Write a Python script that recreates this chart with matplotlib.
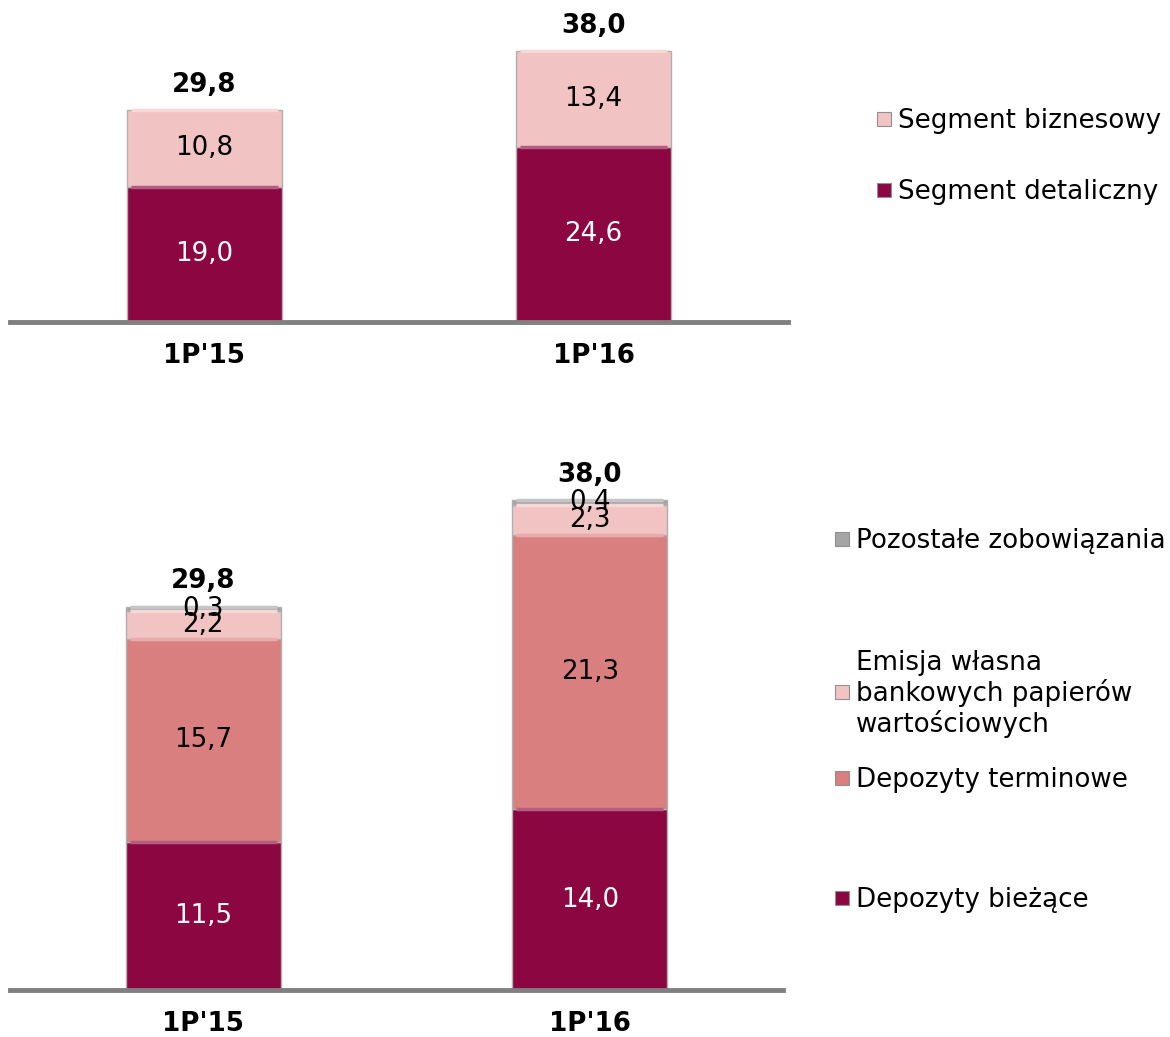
import matplotlib
matplotlib.use("Agg")
from matplotlib import pyplot as plt
from matplotlib.patches import Rectangle
import matplotlib.colors as mcolors

periods = ["1P'15", "1P'16"]

# top chart: segments
seg_names = ["Segment detaliczny", "Segment biznesowy"]
seg_retail = [19.0, 24.6]
seg_business = [10.8, 13.4]
seg_totals = [29.8, 38.0]

# bottom chart: structure
str_names = ["Depozyty bieżące", "Depozyty terminowe",
             "Emisja własna\nbankowych papierów\nwartościowych",
             "Pozostałe zobowiązania"]
current_dep = [11.5, 14.0]
term_dep = [15.7, 21.3]
own_issue = [2.2, 2.3]
other_liab = [0.3, 0.4]
str_totals = [29.8, 38.0]

DARK = "#8c0641"
LIGHT = "#f2c3c3"
SALMON = "#d97f7f"
GRAY = "#a5a5a5"
FS = 18.8


def fmt(v):
    return f"{v:.1f}".replace(".", ",")


def lighter(col, k=0.35):
    r, g, b = mcolors.to_rgb(col)
    return (r + (1 - r) * k, g + (1 - g) * k, b + (1 - b) * k)


def stacked(ax, series, colors, totals, ymax):
    x = list(range(len(periods)))
    bottom = [0.0] * len(periods)
    for vals, col in zip(series, colors):
        ax.bar(x, vals, bottom=bottom, width=0.4, color=col,
               edgecolor="#b0b0b0", linewidth=1.0, zorder=2)
        # bevel highlight on top edge of each segment
        tops = [b + v for b, v in zip(bottom, vals)]
        ax.hlines(tops, [i - 0.19 for i in x], [i + 0.19 for i in x],
                  colors=[lighter(col)], linewidth=2.5, zorder=2.5)
        txt_col = "white" if col == DARK else "black"
        for i, v in enumerate(vals):
            ax.text(i, bottom[i] + v / 2, fmt(v), ha="center", va="center",
                    fontsize=FS, color=txt_col, zorder=3)
        bottom = tops
    for i, t in enumerate(totals):
        ax.annotate(fmt(t), (i, t), xytext=(0, 18), textcoords="offset points",
                    ha="center", va="center", fontsize=FS, fontweight="bold")
    ax.set_xlim(-0.5, 1.5)
    ax.set_ylim(0, ymax)
    ax.set_xticks(x)
    ax.set_xticklabels(periods, fontsize=FS, fontweight="bold")
    ax.tick_params(axis="x", length=0, pad=15)
    ax.set_yticks([])
    for s in ["top", "left", "right"]:
        ax.spines[s].set_visible(False)
    ax.spines["bottom"].set_color("#808080")
    ax.spines["bottom"].set_linewidth(3.5)


def legend_item(fig, x, y, color, label):
    W, H = 1170, 1037
    fig.patches.append(Rectangle((x / W, (H - y - 5) / H), 14 / W, 14 / H,
                                 transform=fig.transFigure, facecolor=color,
                                 edgecolor="#909090", linewidth=0.8))
    fig.text((x + 21) / W, (H - y) / H, label, fontsize=FS, va="center",
             ha="left", linespacing=1.15)


fig = plt.figure(figsize=(11.7, 10.37), dpi=100)

ax1 = fig.add_axes([10 / 1170, 1 - 322 / 1037, 778 / 1170, 302 / 1037])
stacked(ax1, [seg_retail, seg_business], [DARK, LIGHT], seg_totals, 42.36)

ax2 = fig.add_axes([10 / 1170, 1 - 990 / 1037, 773 / 1170, 540 / 1037])
stacked(ax2, [current_dep, term_dep, own_issue, other_liab],
        [DARK, SALMON, LIGHT, GRAY], str_totals, 41.86)

legend_item(fig, 877, 121, LIGHT, seg_names[1])
legend_item(fig, 877, 192, DARK, seg_names[0])

legend_item(fig, 835, 541, GRAY, str_names[3])
legend_item(fig, 835, 694, LIGHT, str_names[2])
legend_item(fig, 835, 780, SALMON, str_names[1])
legend_item(fig, 835, 900, DARK, str_names[0])

fig.savefig("out.png", dpi=100)
